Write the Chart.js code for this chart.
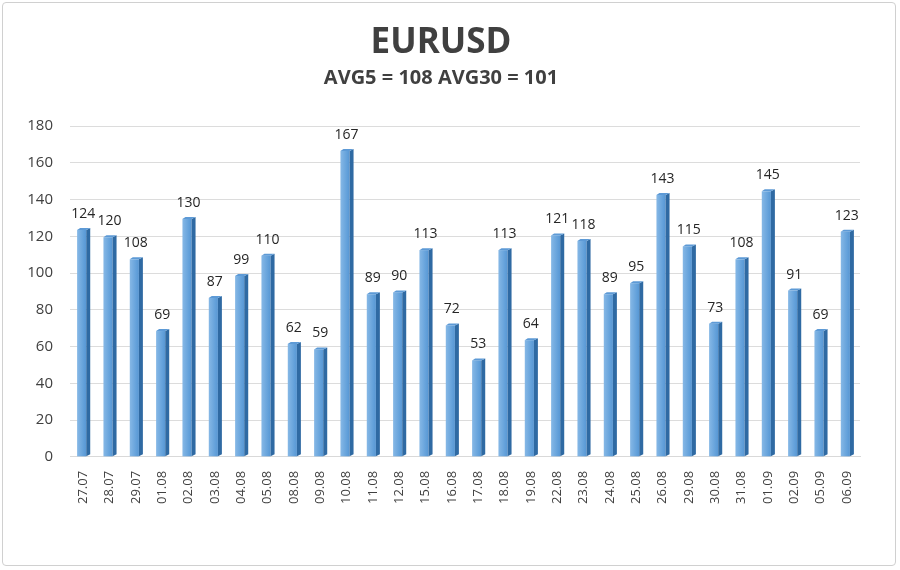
<!DOCTYPE html>
<html><head><meta charset="utf-8">
<script src="https://cdn.jsdelivr.net/npm/chart.js@4"></script>
<style>
html,body{margin:0;padding:0;background:#fff;}
#wrap{position:absolute;left:2px;top:2px;width:894px;height:564px;border:1px solid #d0d0d0;border-radius:4px;box-sizing:border-box;}
canvas{position:absolute;left:0;top:0;}
</style></head><body>
<div id="wrap"></div>
<canvas id="c" width="900" height="570"></canvas>
<script>
const categories = ["27.07","28.07","29.07","01.08","02.08","03.08","04.08","05.08","08.08","09.08","10.08","11.08","12.08","15.08","16.08","17.08","18.08","19.08","22.08","23.08","24.08","25.08","26.08","29.08","30.08","31.08","01.09","02.09","05.09","06.09"];
const values = [124,120,108,69,130,87,99,110,62,59,167,89,90,113,72,53,113,64,121,118,89,95,143,115,73,108,145,91,69,123];
const yTicks = [0,20,40,60,80,100,120,140,160,180];
const titleText = "EURUSD";
const subtitleText = "AVG5 = 108 AVG30 = 101";

const barDeco = {
  id:'barDeco',
  afterDatasetsDraw(chart){
    const ctx = chart.ctx;
    const meta = chart.getDatasetMeta(0);
    ctx.save();
    meta.data.forEach((bar,i)=>{
      const w = bar.width, x0 = bar.x - w/2, x1 = bar.x + w/2;
      const top = bar.y, base = bar.base;
      if(!isFinite(x0) || !isFinite(top)) return;
      const g = ctx.createLinearGradient(x0,0,x1,0);
      g.addColorStop(0,'#86b8e6'); g.addColorStop(0.55,'#62a0da'); g.addColorStop(1,'#4b8bcb');
      ctx.fillStyle = g;
      ctx.fillRect(x0, top+1, w-3, base-top-1);
      ctx.fillStyle = '#2f6aa3';
      ctx.beginPath();
      ctx.moveTo(x1-3, top+1); ctx.lineTo(x1+1, top-1); ctx.lineTo(x1+1, base-2); ctx.lineTo(x1-3, base);
      ctx.closePath(); ctx.fill();
      ctx.fillStyle = '#5d9ad6';
      ctx.beginPath();
      ctx.moveTo(x0, top+1); ctx.lineTo(x0+3, top-1); ctx.lineTo(x1+1, top-1); ctx.lineTo(x1-3, top+1);
      ctx.closePath(); ctx.fill();
      ctx.fillStyle = '#262626';
      ctx.font = '14px "Open Sans", "DejaVu Sans", sans-serif';
      ctx.textAlign = 'center'; ctx.textBaseline = 'bottom';
      ctx.fillText(String(values[i]), bar.x, top - 8);
    });
    ctx.restore();
  }
};

new Chart(document.getElementById('c'), {
  type:'bar',
  data:{labels:categories, datasets:[{data:values,
    backgroundColor:'rgba(0,0,0,0)',
    borderWidth:0, barPercentage:0.46, categoryPercentage:1.0}]},
  options:{
    responsive:false, animation:false,
    layout:{padding:{left:22,right:40,top:10,bottom:60}},
    plugins:{
      legend:{display:false}, tooltip:{enabled:false},
      title:{display:true,text:titleText,color:'#404040',font:{family:'"Open Sans", sans-serif',size:35,weight:'bold'},padding:{top:12,bottom:2}},
      subtitle:{display:true,text:subtitleText,color:'#404040',font:{family:'"Open Sans", sans-serif',size:20,weight:'bold'},padding:{bottom:36}}
    },
    scales:{
      x:{grid:{display:false},border:{display:true,color:'#d9d9d9'},
        ticks:{color:'#404040',maxRotation:90,minRotation:90,autoSkip:false,font:{family:'"Open Sans", sans-serif',size:13},padding:6}},
      y:{min:0,max:180,afterBuildTicks:(s)=>{s.ticks=yTicks.map(v=>({value:v}));},
        grid:{color:'#dcdcdc',drawTicks:false},border:{display:false},
        ticks:{color:'#404040',font:{family:'"Open Sans", sans-serif',size:15},padding:17},
        afterFit:(s)=>{s.width=48;}}
    }
  },
  plugins:[barDeco]
});
</script>
</body></html>
